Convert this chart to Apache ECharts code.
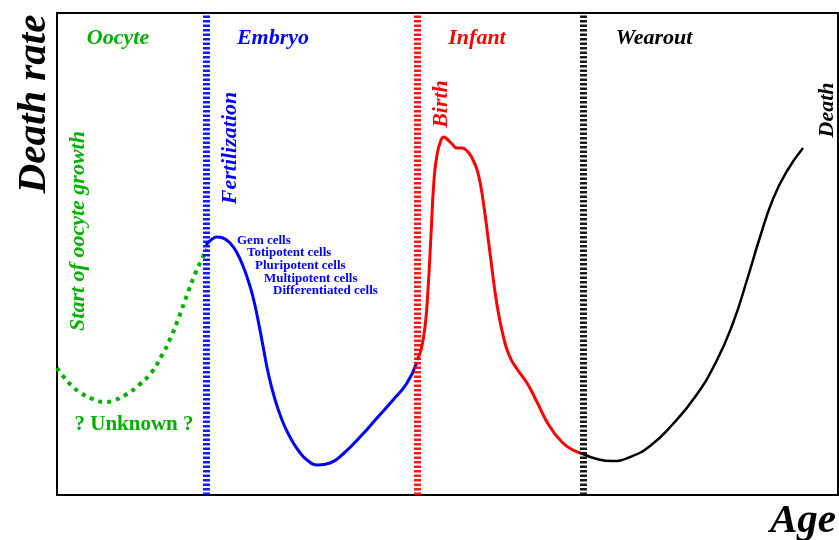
<!DOCTYPE html>
<html>
<head>
<meta charset="utf-8">
<script src="https://cdn.jsdelivr.net/npm/echarts@6/dist/echarts.min.js"></script>
<style>html,body{margin:0;padding:0;background:#fff}#c{width:839px;height:540px}</style>
</head>
<body>
<div id="c"></div>
<script>
// Age (arbitrary units) vs death rate (arbitrary units)
const oocyteAge  = [0,6,14,24,36,48,58,70,82,94,104,114,122,130,138,145,150];
const oocyteRate = [127,119,110,102,96,93,95,101,110,122,138,158,178,200,221,236,246];
const embryoAge  = [149,154,160,166,173,180,186,191,196,201,206,211,217,225,233,241,250,261,273,286,303,320,336,350,360];
const embryoRate = [250,255,258,257,252,242,229,215,198,175,149,123,99,75,58,45,35,30,32,41,58,77,95,112,133];
const infantAge  = [360,364,368,371,374,377,380,384,387,390,395,400,405,411,416,421,426,433,440,446,452,460,470,480,493,506,516,526];
const infantRate = [135,145,168,205,260,315,340,355,358,356,351,347,347,343,335,322,295,242,190,160,140,126,112,93,68,52,45,41];
const wearAge    = [526,540,555,573,593,615,638,659,676,690,703,716,730,746];
const wearRate   = [41,36,34,38,49,70,98,133,172,215,258,296,324,347];
const boundaries = [149,360,526]; // fertilization, birth, onset of wearout
const boundaryColors = ['#0000ff','#ff0000','#000000'];
const phaseNames = ['Oocyte','Embryo','Infant','Wearout'];
const cellLabels = ['Gem cells','Totipotent cells','Pluripotent cells','Multipotent cells','Differentiated cells'];

const GREEN = '#00b000', BLUE = '#0000ff', RED = '#ff0000', BLACK = '#000000';
const FF = '"Liberation Serif","Times New Roman",serif';
const zip = (a,b) => a.map((v,i)=>[v,b[i]]);

function txt(text, x, y, size, color, opts) {
  opts = opts || {};
  return {
    type: 'text', x: x, y: y, rotation: opts.rot || 0, z: 100,
    style: {
      text: text, fill: color, fontFamily: FF, fontSize: size,
      fontWeight: 'bold', fontStyle: opts.italic === false ? 'normal' : 'italic',
      align: opts.align || 'center', verticalAlign: 'middle'
    }
  };
}
const R = Math.PI/2;
const graphics = [
  txt('Death rate', 34, 104, 41, BLACK, {rot: R}),
  txt('Age', 803, 521, 41, BLACK),
  txt(phaseNames[0], 118, 38, 22, GREEN),
  txt(phaseNames[1], 273, 38, 22, BLUE),
  txt(phaseNames[2], 477, 38, 22, RED),
  txt(phaseNames[3], 654, 38, 22, BLACK),
  txt('Start of oocyte growth', 78, 231, 22, GREEN, {rot: R}),
  txt('Fertilization', 230, 148, 22, BLUE, {rot: R}),
  txt('Birth', 441, 104, 22, RED, {rot: R}),
  txt('Death', 827, 110, 22, BLACK, {rot: R}),
  txt('? Unknown ?', 134, 425, 21, GREEN, {italic: false})
];
const cellX = [237,247,255,264,273], cellY = [241,253,266,279,291];
cellLabels.forEach((t,i)=>graphics.push(txt(t, cellX[i], cellY[i], 13, BLUE, {italic:false, align:'left'})));

const chart = echarts.init(document.getElementById('c'), null, {renderer:'canvas'});
chart.setOption({
  animation: false,
  backgroundColor: '#fff',
  grid: {left: 57, top: 13, right: 1, bottom: 45, show: true, borderColor: '#000', borderWidth: 2, backgroundColor: 'transparent'},
  xAxis: {type: 'value', min: 0, max: 781, axisLine: {show: false}, axisTick: {show: false}, axisLabel: {show: false}, splitLine: {show: false}},
  yAxis: {type: 'value', min: 0, max: 482, axisLine: {show: false}, axisTick: {show: false}, axisLabel: {show: false}, splitLine: {show: false}},
  graphic: graphics,
  series: [
    {
      type: 'line', data: [], z: 1, silent: true,
      markLine: {
        silent: true, symbol: ['none','none'], label: {show: false},
        data: boundaries.map((b,i)=>({xAxis: b, lineStyle: {color: boundaryColors[i], width: 7, type: [2.5,2], cap: 'butt', opacity: 0.9}}))
      }
    },
    {type: 'line', data: zip(oocyteAge, oocyteRate), smooth: 0.5, showSymbol: false, z: 3,
     lineStyle: {color: GREEN, width: 4, type: [4,5], cap: 'butt'}},
    {type: 'line', data: zip(embryoAge, embryoRate), smooth: 0.5, showSymbol: false, z: 4,
     lineStyle: {color: BLUE, width: 3}},
    {type: 'line', data: zip(infantAge, infantRate), smooth: 0.5, showSymbol: false, z: 4,
     lineStyle: {color: RED, width: 3}},
    {type: 'line', data: zip(wearAge, wearRate), smooth: 0.5, showSymbol: false, z: 4,
     lineStyle: {color: BLACK, width: 2.5}}
  ]
});
</script>
</body>
</html>
